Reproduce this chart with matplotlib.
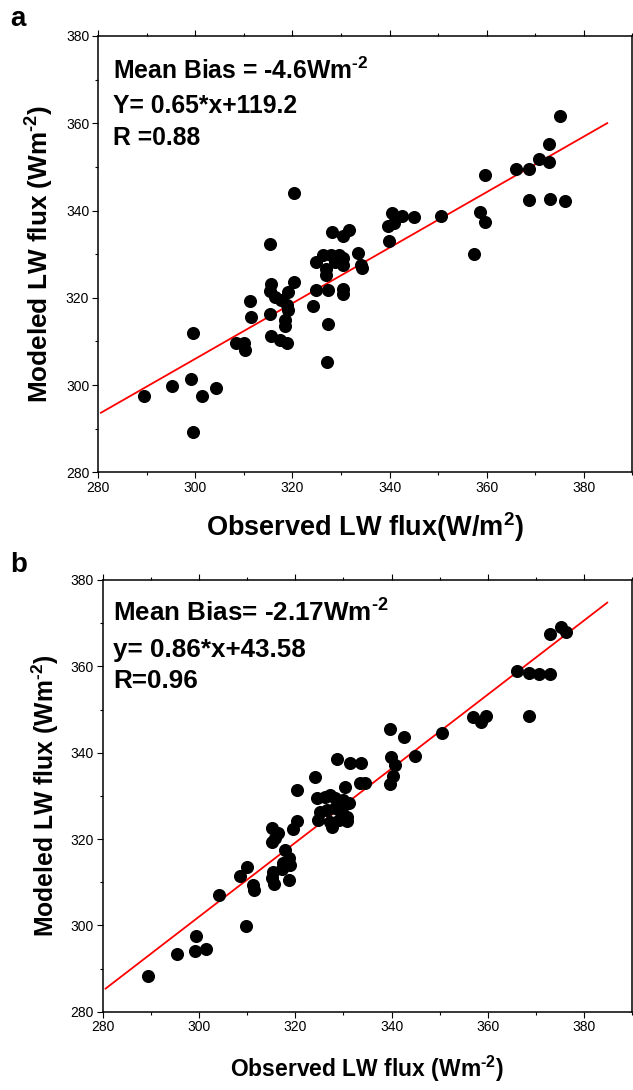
import matplotlib.pyplot as plt
from matplotlib.ticker import MultipleLocator

plt.rcParams['font.family'] = ['Liberation Sans', 'DejaVu Sans']
plt.rcParams['mathtext.default'] = 'regular'

# panel a: observed vs modeled LW flux (W/m2)
obs_a = [289.4, 295.3, 299.2, 301.4, 304.2, 299.5, 299.5, 308.5, 310.0, 310.2,
         311.2, 311.4, 315.3, 315.7, 315.3, 316.4, 317.7, 318.8, 319.1, 320.3,
         319.1, 315.3, 318.4, 318.4, 315.7, 317.4, 318.8, 320.3, 324.2, 324.9,
         327.3, 327.3, 327.1, 330.4, 330.4, 324.8, 326.3, 328.0, 329.7, 330.4,
         328.7, 330.4, 327.0, 327.0, 328.1, 330.5, 331.6, 333.6, 334.1, 334.4,
         339.7, 341.0, 340.6, 342.6, 345.0, 339.9, 350.6, 357.4, 358.7, 359.6,
         359.6, 366.1, 368.7, 368.7, 370.7, 372.9, 372.9, 373.0, 375.0, 376.1]
mod_a = [297.6, 299.8, 301.3, 297.5, 299.4, 289.2, 311.9, 309.6, 309.6, 308.0,
         319.3, 315.7, 332.4, 323.2, 321.5, 320.2, 319.4, 318.3, 317.1, 323.5,
         321.3, 316.3, 314.8, 313.6, 311.3, 310.3, 309.7, 344.1, 318.2, 321.7,
         321.7, 314.0, 305.3, 322.1, 320.9, 328.2, 329.7, 329.7, 329.7, 329.0,
         328.2, 327.5, 326.7, 325.2, 335.1, 334.2, 335.6, 330.3, 327.4, 326.8,
         336.5, 337.2, 339.4, 338.7, 338.4, 333.1, 338.7, 330.1, 339.7, 337.4,
         348.1, 349.4, 349.4, 342.4, 351.8, 351.2, 355.2, 342.6, 361.7, 342.1]

# panel b
obs_b = [289.5, 295.4, 299.4, 299.2, 301.5, 309.8, 304.1, 308.5, 309.9, 311.3,
         311.5, 315.3, 315.2, 315.6, 318.6, 317.2, 317.5, 318.9, 318.6, 317.9,
         315.1, 316.4, 315.1, 315.8, 319.6, 320.3, 320.3, 324.1, 324.5, 328.6,
         331.4, 333.6, 330.4, 333.5, 334.5, 326.2, 327.3, 328.3, 330.0, 331.1,
         325.2, 326.6, 328.3, 329.7, 330.7, 324.8, 327.3, 329.0, 330.7, 327.6,
         339.6, 340.4, 340.8, 339.9, 344.9, 339.6, 342.5, 350.5, 357.0, 358.6,
         359.7, 366.1, 368.5, 370.7, 373.0, 368.6, 373.0, 375.1, 376.3]
mod_b = [288.3, 293.3, 297.6, 294.1, 294.5, 299.9, 307.1, 311.5, 313.5, 309.3,
         308.3, 312.4, 310.9, 309.6, 310.5, 313.0, 314.4, 314.0, 315.5, 317.5,
         322.5, 321.5, 319.2, 320.2, 322.4, 324.2, 331.3, 334.4, 329.4, 338.5,
         337.5, 337.5, 332.1, 332.9, 332.9, 329.8, 330.2, 329.4, 329.0, 328.3,
         326.3, 326.7, 327.1, 326.3, 325.2, 324.4, 324.0, 324.4, 324.2, 322.9,
         332.7, 334.7, 337.1, 339.1, 339.3, 345.5, 343.7, 344.5, 348.3, 347.2,
         348.6, 359.0, 358.4, 358.2, 358.2, 348.6, 367.4, 369.0, 367.9]

# fitted lines as drawn (slope, intercept) and x range
fit_a = (0.637, 114.9)
fit_b = (0.858, 44.6)
fit_x = [280.6, 384.8]

SUP = '$^{\u20102}$'
stats_a = ['Mean Bias = -4.6Wm' + SUP, 'Y= 0.65*x+119.2', 'R =0.88']
stats_b = ['Mean Bias= -2.17Wm' + SUP, 'y= 0.86*x+43.58', 'R=0.96']
ylabel = 'Modeled LW flux (Wm' + SUP + ')'

fig = plt.figure(figsize=(6.33, 10.9), dpi=100)
ax_a = fig.add_axes([0.1548, 0.5667, 0.8444, 0.4003])
ax_b = fig.add_axes([0.1622, 0.0718, 0.8367, 0.3961])


def style(ax, obs, mod, fit, stats, ypos, tx, tsize, xlabel, xsize, xpad,
          ysize, letter, lx, ly):
    ax.plot(obs, mod, 'o', color='black', markersize=8.4, zorder=3)
    ax.plot(fit_x, [fit[0] * x + fit[1] for x in fit_x], color='red', lw=1.3, zorder=2)
    ax.set_xlim(280, 390)
    ax.set_ylim(280, 380)
    ax.xaxis.set_major_locator(MultipleLocator(20))
    ax.xaxis.set_minor_locator(MultipleLocator(10))
    ax.yaxis.set_major_locator(MultipleLocator(20))
    ax.yaxis.set_minor_locator(MultipleLocator(10))
    ax.tick_params(which='major', direction='out', length=4.3, width=0.8,
                   labelsize=10, pad=2)
    ax.tick_params(which='minor', direction='out', length=2.5, width=0.8)
    ax.tick_params(axis='x', which='both', top=True)
    ax.tick_params(axis='x', which='major', labeltop=False)
    for s in ax.spines.values():
        s.set_linewidth(1.1)
    for t, y in zip(stats, ypos):
        ax.text(tx, y, t, transform=ax.transAxes, fontsize=tsize,
                fontweight='bold', va='baseline')
    ax.set_xlabel(xlabel, fontsize=xsize, fontweight='bold', labelpad=xpad)
    ax.set_ylabel(ylabel, fontsize=ysize, fontweight='bold', labelpad=7)
    ax.text(lx, ly, letter, transform=ax.transAxes, fontsize=20,
            fontweight='bold', va='baseline')


style(ax_a, obs_a, mod_a, fit_a, stats_a, [0.901, 0.823, 0.75], 0.028, 17.8,
      'Observed LW flux(W/m$^{2}$)', 19.5, 11, 18.8, 'a', -0.165, 1.023)
style(ax_b, obs_b, mod_b, fit_b, stats_b, [0.903, 0.822, 0.749], 0.02, 18.7,
      'Observed LW flux (Wm' + SUP + ')', 16.5, 14, 17.8, 'b', -0.175, 1.018)

fig.savefig('out.png', dpi=100)
